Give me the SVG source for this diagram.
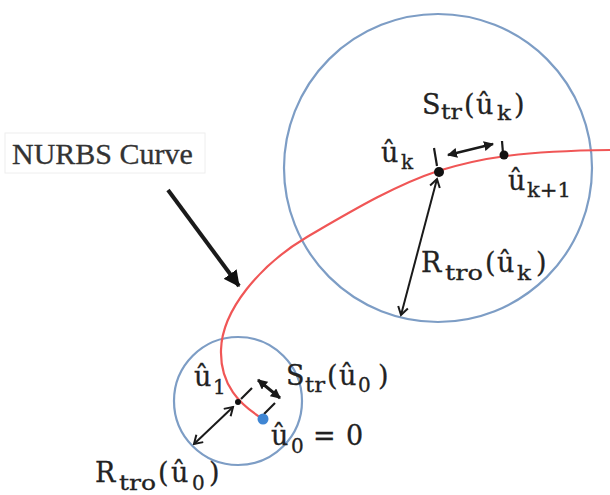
<svg xmlns="http://www.w3.org/2000/svg" width="610" height="495" viewBox="0 0 610 495">
<style>
.circ{fill:none;stroke:#7d9dc5;stroke-width:2.2}
.curve{fill:none;stroke:#f05656;stroke-width:2.2}
.m{font-family:"DejaVu Serif","Liberation Serif",serif;font-size:27px;fill:#222;stroke:#222;stroke-width:0.3}
.s{font-family:"DejaVu Serif","Liberation Serif",serif;font-size:20px;fill:#222;stroke:#222;stroke-width:0.3}
.arr{fill:none;stroke:#1a1a1a}
.tick{stroke:#1a1a1a;stroke-width:2.2}
</style>
<defs>
<marker id="chev" viewBox="0 0 12 12" refX="10" refY="6" markerWidth="12" markerHeight="12" markerUnits="userSpaceOnUse" orient="auto-start-reverse">
<path d="M2,1 L10,6 L2,11" fill="none" stroke="#1a1a1a" stroke-width="2"/>
</marker>
<marker id="tri" viewBox="0 0 10 10" refX="9" refY="5" markerWidth="10" markerHeight="10" markerUnits="userSpaceOnUse" orient="auto-start-reverse">
<path d="M0,0 L10,5 L0,10 Z" fill="#1a1a1a"/>
</marker>
<marker id="big" viewBox="0 0 14 14" refX="13" refY="7" markerWidth="16" markerHeight="16" markerUnits="userSpaceOnUse" orient="auto">
<path d="M0,0 L14,7 L0,14 Z" fill="#111"/>
</marker>
</defs>
<g id="big-circle"><circle class="circ" cx="438" cy="168" r="154"/></g>
<g id="small-circle"><circle class="circ" cx="238" cy="401" r="64"/></g>
<g id="nurbs-curve"><path class="curve" d="M263,419 C240,405 220,385 221,350 C222,310 260,265 307,237 C350,212 395,185 438,171 C480,158 520,151 610,150"/></g>
<g id="nurbs-label">
<rect x="5" y="133" width="200" height="40" fill="#fff" stroke="#eeeeee" stroke-width="1"/>
<text x="12" y="164" font-family="Liberation Serif, serif" font-size="30" fill="#333" stroke="#333" stroke-width="0.3">NURBS Curve</text>
</g>
<g id="connectors">
<line class="arr" x1="168" y1="190" x2="239" y2="286" stroke-width="4" marker-end="url(#big)"/>
<line class="arr" x1="437" y1="179" x2="401" y2="315" stroke-width="2" marker-start="url(#chev)" marker-end="url(#chev)"/>
<line class="arr" x1="448" y1="155" x2="493" y2="144" stroke-width="2.5" marker-start="url(#tri)" marker-end="url(#tri)"/>
<line class="arr" x1="258" y1="380" x2="280" y2="398" stroke-width="3" marker-start="url(#tri)" marker-end="url(#tri)"/>
<line class="arr" x1="194" y1="444" x2="233" y2="407" stroke-width="2" marker-start="url(#chev)" marker-end="url(#chev)"/>
<line class="tick" x1="434" y1="148" x2="437" y2="166"/>
<line class="tick" x1="502" y1="141" x2="503" y2="153"/>
<line class="tick" x1="241" y1="399" x2="252" y2="388"/>
<line class="tick" x1="264" y1="414" x2="275" y2="403"/>
</g>
<g id="point-uk">
<circle cx="439" cy="172" r="5" fill="#111"/>
<text class="m" x="381" y="162">û</text><text class="s" x="401" y="169">k</text>
</g>
<g id="point-uk1">
<circle cx="504" cy="155" r="4.5" fill="#111"/>
<text class="m" x="508" y="190">û</text><text class="s" x="527" y="197" textLength="44" lengthAdjust="spacingAndGlyphs">k+1</text>
</g>
<g id="label-str-uk">
<text class="m" x="422" y="114">S</text><text class="s" x="441" y="119" textLength="21" lengthAdjust="spacingAndGlyphs">tr</text><text class="m" x="464" y="114">(</text><text class="m" x="476" y="114">û</text><text class="s" x="497" y="120" textLength="14" lengthAdjust="spacingAndGlyphs">k</text><text class="m" x="514" y="114">)</text>
</g>
<g id="label-rtro-uk">
<text class="m" x="421" y="272">R</text><text class="s" x="445" y="280" textLength="38" lengthAdjust="spacingAndGlyphs">tro</text><text class="m" x="485" y="272">(</text><text class="m" x="497" y="272">û</text><text class="s" x="517" y="280" textLength="14" lengthAdjust="spacingAndGlyphs">k</text><text class="m" x="536" y="272">)</text>
</g>
<g id="point-u1">
<circle cx="238" cy="402" r="3" fill="#111"/>
<text class="m" x="194" y="386">û</text><text class="s" x="213" y="394">1</text>
</g>
<g id="point-u0">
<circle cx="263" cy="419" r="5.5" fill="#3f86d3"/>
<text class="m" x="271" y="445">û</text><text class="s" x="291" y="453">0</text><text class="m" x="313" y="445">=</text><text class="m" x="346" y="445">0</text>
</g>
<g id="label-str-u0">
<text class="m" x="286" y="385">S</text><text class="s" x="305" y="392" textLength="20" lengthAdjust="spacingAndGlyphs">tr</text><text class="m" x="327" y="385">(</text><text class="m" x="339" y="385">û</text><text class="s" x="358" y="392">0</text><text class="m" x="378" y="385">)</text>
</g>
<g id="label-rtro-u0">
<text class="m" x="95" y="482">R</text><text class="s" x="119" y="490" textLength="37" lengthAdjust="spacingAndGlyphs">tro</text><text class="m" x="158" y="482">(</text><text class="m" x="171" y="482">û</text><text class="s" x="192" y="490">0</text><text class="m" x="209" y="482">)</text>
</g>
</svg>
